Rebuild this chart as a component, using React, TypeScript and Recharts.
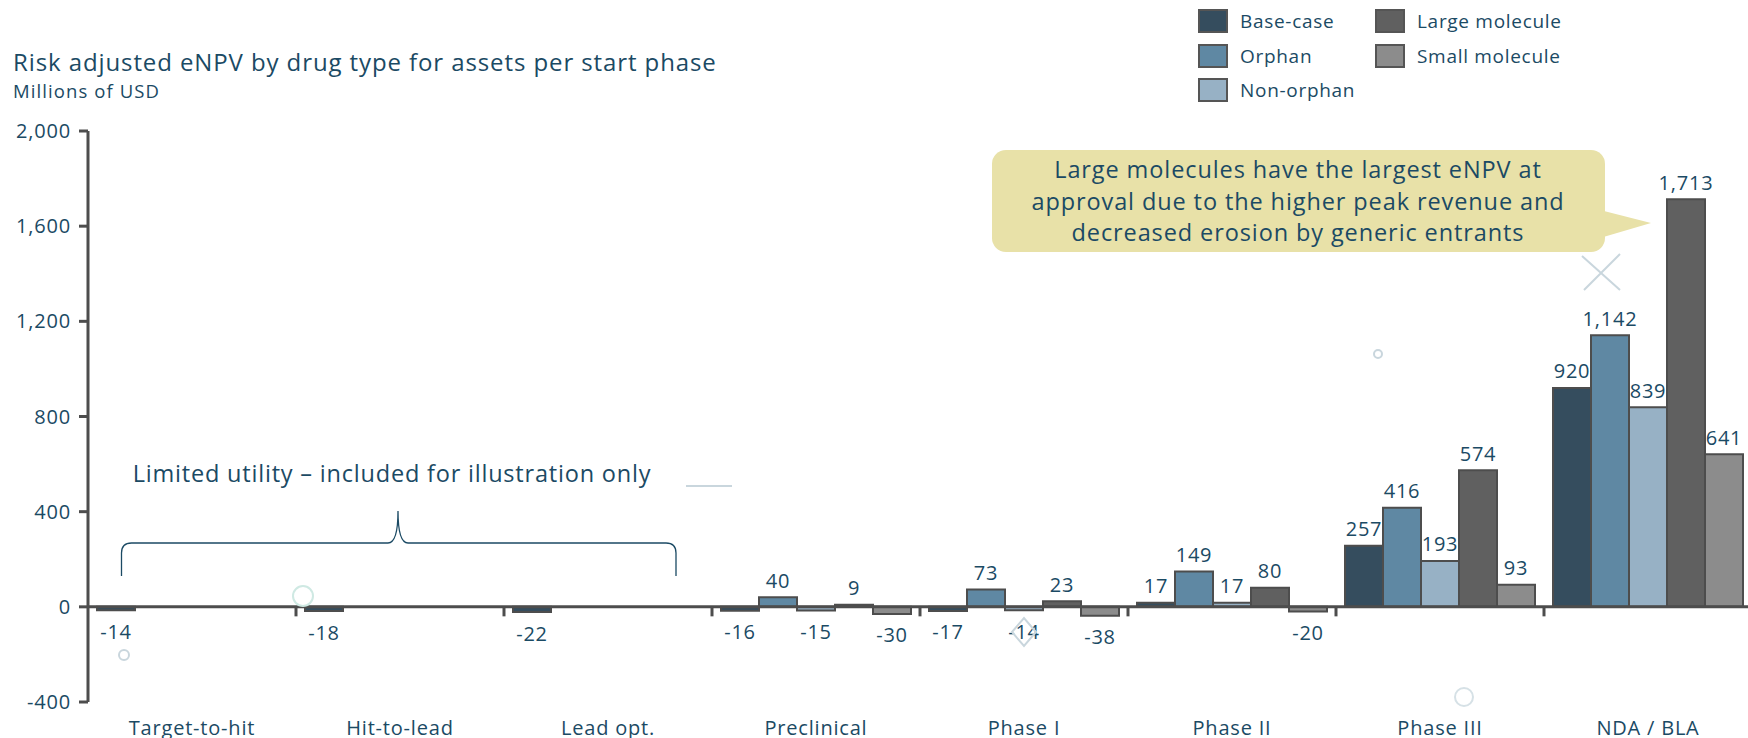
import React from 'react';
import { BarChart, Bar, XAxis, YAxis, ReferenceLine, LabelList, Legend } from 'recharts';

const categories = ['Target-to-hit', 'Hit-to-lead', 'Lead opt.', 'Preclinical', 'Phase I', 'Phase II', 'Phase III', 'NDA / BLA'];
const baseCase = [-14, -18, -22, -16, -17, 17, 257, 920];
const orphan = [null, null, null, 40, 73, 149, 416, 1142];
const nonOrphan = [null, null, null, -15, -14, 17, 193, 839];
const largeMolecule = [null, null, null, 9, 23, 80, 574, 1713];
const smallMolecule = [null, null, null, -30, -38, -20, 93, 641];
const yTicks = [-400, 0, 400, 800, 1200, 1600, 2000];

const seriesKeys = ['base', 'orphan', 'nonOrphan', 'large', 'small'];
const seriesNames = ['Base-case', 'Orphan', 'Non-orphan', 'Large molecule', 'Small molecule'];
const seriesColors = ['#354d5e', '#5f88a3', '#97b1c5', '#606060', '#8c8c8c'];
const seriesValues = [baseCase, orphan, nonOrphan, largeMolecule, smallMolecule];

const data = categories.map((category, i) => {
  const row: Record<string, any> = { category };
  seriesKeys.forEach((k, s) => { row[k] = seriesValues[s][i]; });
  return row;
});

const TEXT = '#1b4a64';
const AXIS = '#4d4d4d';
const FONT = '"Open Sans", "Noto Sans", sans-serif';

const fmt = (v: number) => v.toLocaleString('en-US');

const renderValueLabel = (props: any) => {
  const { value } = props;
  if (value == null) return null;
  const vb = props.viewBox && props.viewBox.width != null ? props.viewBox : props;
  const { x, y, width, height } = vb;
  const top = Math.min(y, y + height);
  const bottom = Math.max(y, y + height);
  const ty = value >= 0 ? top - 17 : bottom + 21;
  return (
    <text x={x + width / 2} y={ty} textAnchor="middle" dominantBaseline="central" fill={TEXT} fontSize={20} letterSpacing={0.8}>
      {fmt(value)}
    </text>
  );
};

const LegendBox = () => (
  <div style={{ position: 'relative', width: 420, height: 110, fontFamily: FONT }}>
    {seriesNames.map((name, i) => {
      const col = i < 3 ? 0 : 1;
      const row = i < 3 ? i : i - 3;
      return (
        <div key={name} style={{ position: 'absolute', left: col * 177, top: 9 + row * 34.5, display: 'flex', alignItems: 'center' }}>
          <div style={{ width: 30, height: 24, background: seriesColors[i], border: '2px solid #555', boxSizing: 'border-box' }} />
          <span style={{ marginLeft: 12, fontSize: 19, letterSpacing: 0.7, color: TEXT, lineHeight: '24px', whiteSpace: 'nowrap' }}>{name}</span>
        </div>
      );
    })}
  </div>
);

export default function App() {
  return (
    <div style={{ position: 'absolute', left: 0, top: 0, width: 1748, height: 738, overflow: 'hidden', background: '#fff', fontFamily: FONT }}>
      <BarChart
        width={1748}
        height={738}
        data={data}
        margin={{ top: 131, right: -4, bottom: 6, left: 28 }}
        barCategoryGap={9}
        barGap={0}
      >
        <XAxis
          dataKey="category"
          axisLine={false}
          tickLine={false}
          tickSize={0}
          tickMargin={19}
          interval={0}
          height={30}
          tick={{ fill: TEXT, fontSize: 20, letterSpacing: 0.8 }}
        />
        <YAxis
          width={60}
          domain={[-400, 2000]}
          ticks={yTicks}
          interval={0}
          allowDataOverflow
          tickFormatter={fmt}
          axisLine={{ stroke: AXIS, strokeWidth: 3 }}
          tickLine={{ stroke: AXIS, strokeWidth: 3 }}
          tickSize={9}
          tickMargin={8}
          tick={{ fill: TEXT, fontSize: 20, letterSpacing: 0.8 }}
        />
        <Legend
          layout="horizontal"
          verticalAlign="middle"
          content={() => <LegendBox />}
          wrapperStyle={{ position: 'absolute', top: 0, left: 1198, width: 420, height: 110 }}
        />
        {seriesKeys.map((k, i) => (
          <Bar key={k} dataKey={k} name={seriesNames[i]} fill={seriesColors[i]} stroke={AXIS} strokeWidth={2} isAnimationActive={false}>
            <LabelList dataKey={k} content={renderValueLabel} />
          </Bar>
        ))}
        <ReferenceLine y={0} stroke={AXIS} strokeWidth={3} />
        {categories.slice(1).map((c) => (
          <ReferenceLine
            key={c}
            segment={[{ x: c, y: 0 }, { x: c, y: -40 }]}
            position="start"
            stroke={AXIS}
            strokeWidth={3}
          />
        ))}
      </BarChart>

      <svg width={1748} height={738} style={{ position: 'absolute', left: 0, top: 0, pointerEvents: 'none' }}>
        <text x={13} y={61} fontSize={24} letterSpacing={0.9} fill={TEXT} dominantBaseline="central">
          Risk adjusted eNPV by drug type for assets per start phase
        </text>
        <text x={13} y={90} fontSize={18.5} letterSpacing={1.1} fill={TEXT} dominantBaseline="central">Millions of USD</text>

        <g stroke="#c9d6dd" strokeWidth={2} fill="none">
          <circle cx={124} cy={655} r={5} />
          <circle cx={303} cy={596} r={10} stroke="#cfe9e3" />
          <circle cx={1378} cy={354} r={4} />
          <circle cx={1464} cy={697} r={9} stroke="#d6e1e6" />
          <path d="M1582 256 L1620 290 M1620 254 L1584 290" />
          <path d="M1012 632 L1024 618 L1036 632 L1024 646 Z" />
          <path d="M686 486 L732 486" />
        </g>

        <text x={392} y={473} fontSize={23.5} letterSpacing={0.8} fill={TEXT} textAnchor="middle" dominantBaseline="central">
          Limited utility – included for illustration only
        </text>
        <path
          d="M121.5 576 L121.5 553 Q121.5 543 131.5 543 L388 543 Q398 543 398 511 Q398 543 408 543 L666 543 Q676 543 676 553 L676 576"
          fill="none"
          stroke={TEXT}
          strokeWidth={1.3}
        />

        <rect x={992} y={150} width={613} height={102} rx={14} fill="#e8e1a8" />
        <polygon points="1600,210 1651,223 1600,238" fill="#e8e1a8" />
        <g fontSize={23.5} letterSpacing={0.9} fill={TEXT} textAnchor="middle" dominantBaseline="central">
          <text x={1298} y={169}>Large molecules have the largest eNPV at</text>
          <text x={1298} y={201}>approval due to the higher peak revenue and</text>
          <text x={1298} y={232}>decreased erosion by generic entrants</text>
        </g>
      </svg>
    </div>
  );
}
